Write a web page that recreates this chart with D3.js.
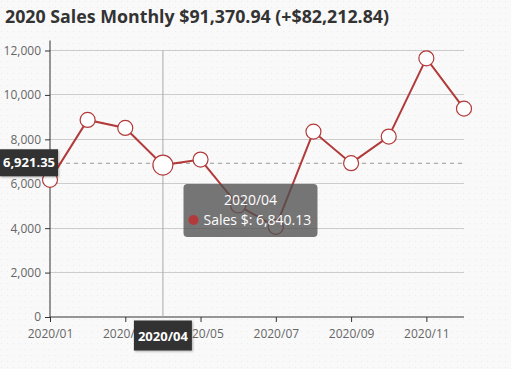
<!DOCTYPE html>
<html><head><meta charset="utf-8">
<script src="https://cdn.jsdelivr.net/npm/d3@7/dist/d3.min.js"></script>
<style>
html,body{margin:0;padding:0;background:#f9f9f9;}
svg{display:block;font-family:"Open Sans","Noto Sans",sans-serif;}
</style></head><body>
<svg id="c" width="511" height="369"></svg>
<script>
const title = "2020 Sales Monthly $91,370.94 (+$82,212.84)";
const months = ["2020/01","2020/02","2020/03","2020/04","2020/05","2020/06","2020/07","2020/08","2020/09","2020/10","2020/11","2020/12"];
const sales = [6175, 8874, 8514, 6840.13, 7089, 5020, 4062, 8348, 6927, 8123, 11649, 9382];
const yTicks = [0, 2000, 4000, 6000, 8000, 10000, 12000];
const hoverIndex = 3;
const pointerValue = 6921.35;

const W = 511, H = 369;
const m = {l:50, r:47, t:50.5, b:52};
const svg = d3.select("#c");
const red = "#b23a3a";

const defs = svg.append("defs");
const pat = defs.append("pattern").attr("id","dots").attr("width",6).attr("height",6).attr("patternUnits","userSpaceOnUse");
pat.append("rect").attr("width",6).attr("height",6).attr("fill","#f9f9f9");
pat.append("rect").attr("x",1).attr("y",1).attr("width",1).attr("height",1).attr("fill","#ececec");
const sh = defs.append("filter").attr("id","shadow").attr("x","-20%").attr("y","-20%").attr("width","140%").attr("height","150%");
sh.append("feDropShadow").attr("dx",1).attr("dy",1).attr("stdDeviation",1.2).attr("flood-color","#000").attr("flood-opacity",0.3);
svg.append("rect").attr("width",W).attr("height",H).attr("fill","url(#dots)");

const x = d3.scalePoint().domain(months).range([m.l, W - m.r]);
const y = d3.scaleLinear().domain([0, 12000]).range([H - m.b, m.t]);

svg.append("text").attr("x",5).attr("y",23).attr("font-size",17.8).attr("font-weight","bold")
  .attr("fill","#333").text(title);

// grid
svg.append("g").selectAll("line").data(yTicks.filter(d=>d>0)).join("line")
  .attr("x1",m.l).attr("x2",W-m.r).attr("y1",d=>y(d)).attr("y2",d=>y(d))
  .attr("stroke","#ccc").attr("stroke-width",1).attr("shape-rendering","crispEdges");

// y axis
const ya = svg.append("g").attr("transform",`translate(${m.l},0)`)
  .call(d3.axisLeft(y).tickValues(yTicks).tickFormat(d3.format(",")).tickSize(5).tickSizeOuter(0));
ya.select(".domain").attr("stroke","#333").attr("d",`M0,${y(0)}V${m.t-10}`);
ya.selectAll(".tick line").attr("stroke","#333");
ya.selectAll(".tick text").attr("fill","#666").attr("font-size",12).attr("font-family","Open Sans, sans-serif").attr("x",-9);

// x axis
const xa = svg.append("g").attr("transform",`translate(0,${y(0)})`)
  .call(d3.axisBottom(x).tickValues(months.filter((d,i)=>i%2===0)).tickSize(5).tickSizeOuter(0));
xa.select(".domain").attr("stroke","#333").attr("d",`M${m.l},0H${W-m.r}`);
xa.selectAll(".tick line").attr("stroke","#333");
xa.selectAll(".tick text").attr("fill","#666").attr("font-size",12).attr("font-family","Open Sans, sans-serif").attr("dy","1.05em");

// crosshair
const hx = x(months[hoverIndex]);
svg.append("line").attr("x1",hx).attr("x2",hx).attr("y1",m.t).attr("y2",y(0))
  .attr("stroke","#aaa").attr("stroke-width",1);
svg.append("line").attr("x1",m.l).attr("x2",W-m.r).attr("y1",y(pointerValue)).attr("y2",y(pointerValue))
  .attr("stroke","#999").attr("stroke-width",1).attr("stroke-dasharray","4,4");

// line
svg.append("path").datum(sales)
  .attr("d", d3.line().x((d,i)=>x(months[i])).y(d=>y(d)))
  .attr("fill","none").attr("stroke",red).attr("stroke-width",2);
svg.append("g").selectAll("circle").data(sales).join("circle")
  .attr("cx",(d,i)=>x(months[i])).attr("cy",d=>y(d)).attr("r",(d,i)=>i===hoverIndex?10:7.5)
  .attr("fill","#fff").attr("stroke",red).attr("stroke-width",1.2);

// y pointer label
const py = y(pointerValue);
svg.append("rect").attr("x",0).attr("y",py-14).attr("width",58).attr("height",27).attr("fill","#333").attr("filter","url(#shadow)");
svg.append("text").attr("x",29).attr("y",py+4).attr("text-anchor","middle").attr("fill","#fff")
  .attr("font-size",13).attr("font-weight","bold").text(d3.format(",.2f")(pointerValue));

// x pointer label
svg.append("rect").attr("x",hx-29).attr("y",y(0)+3.5).attr("width",58).attr("height",30).attr("fill","#333").attr("filter","url(#shadow)");
svg.append("text").attr("x",hx).attr("y",y(0)+23.5).attr("text-anchor","middle").attr("fill","#fff")
  .attr("font-size",13).attr("font-weight","bold").text(months[hoverIndex]);

// tooltip
const tx = 183.5, ty = 184, tw = 134, th = 53;
svg.append("rect").attr("x",tx).attr("y",ty).attr("width",tw).attr("height",th).attr("rx",4)
  .attr("fill","rgba(80,80,80,0.78)");
svg.append("text").attr("x",tx+tw/2).attr("y",ty+21).attr("text-anchor","middle").attr("fill","#fff")
  .attr("font-size",14).text(months[hoverIndex]);
svg.append("circle").attr("cx",tx+10).attr("cy",ty+36).attr("r",5).attr("fill",red);
svg.append("text").attr("x",tx+20).attr("y",ty+41).attr("fill","#fff")
  .attr("font-size",14).text("Sales $: " + d3.format(",.2f")(sales[hoverIndex]));
</script></body></html>
